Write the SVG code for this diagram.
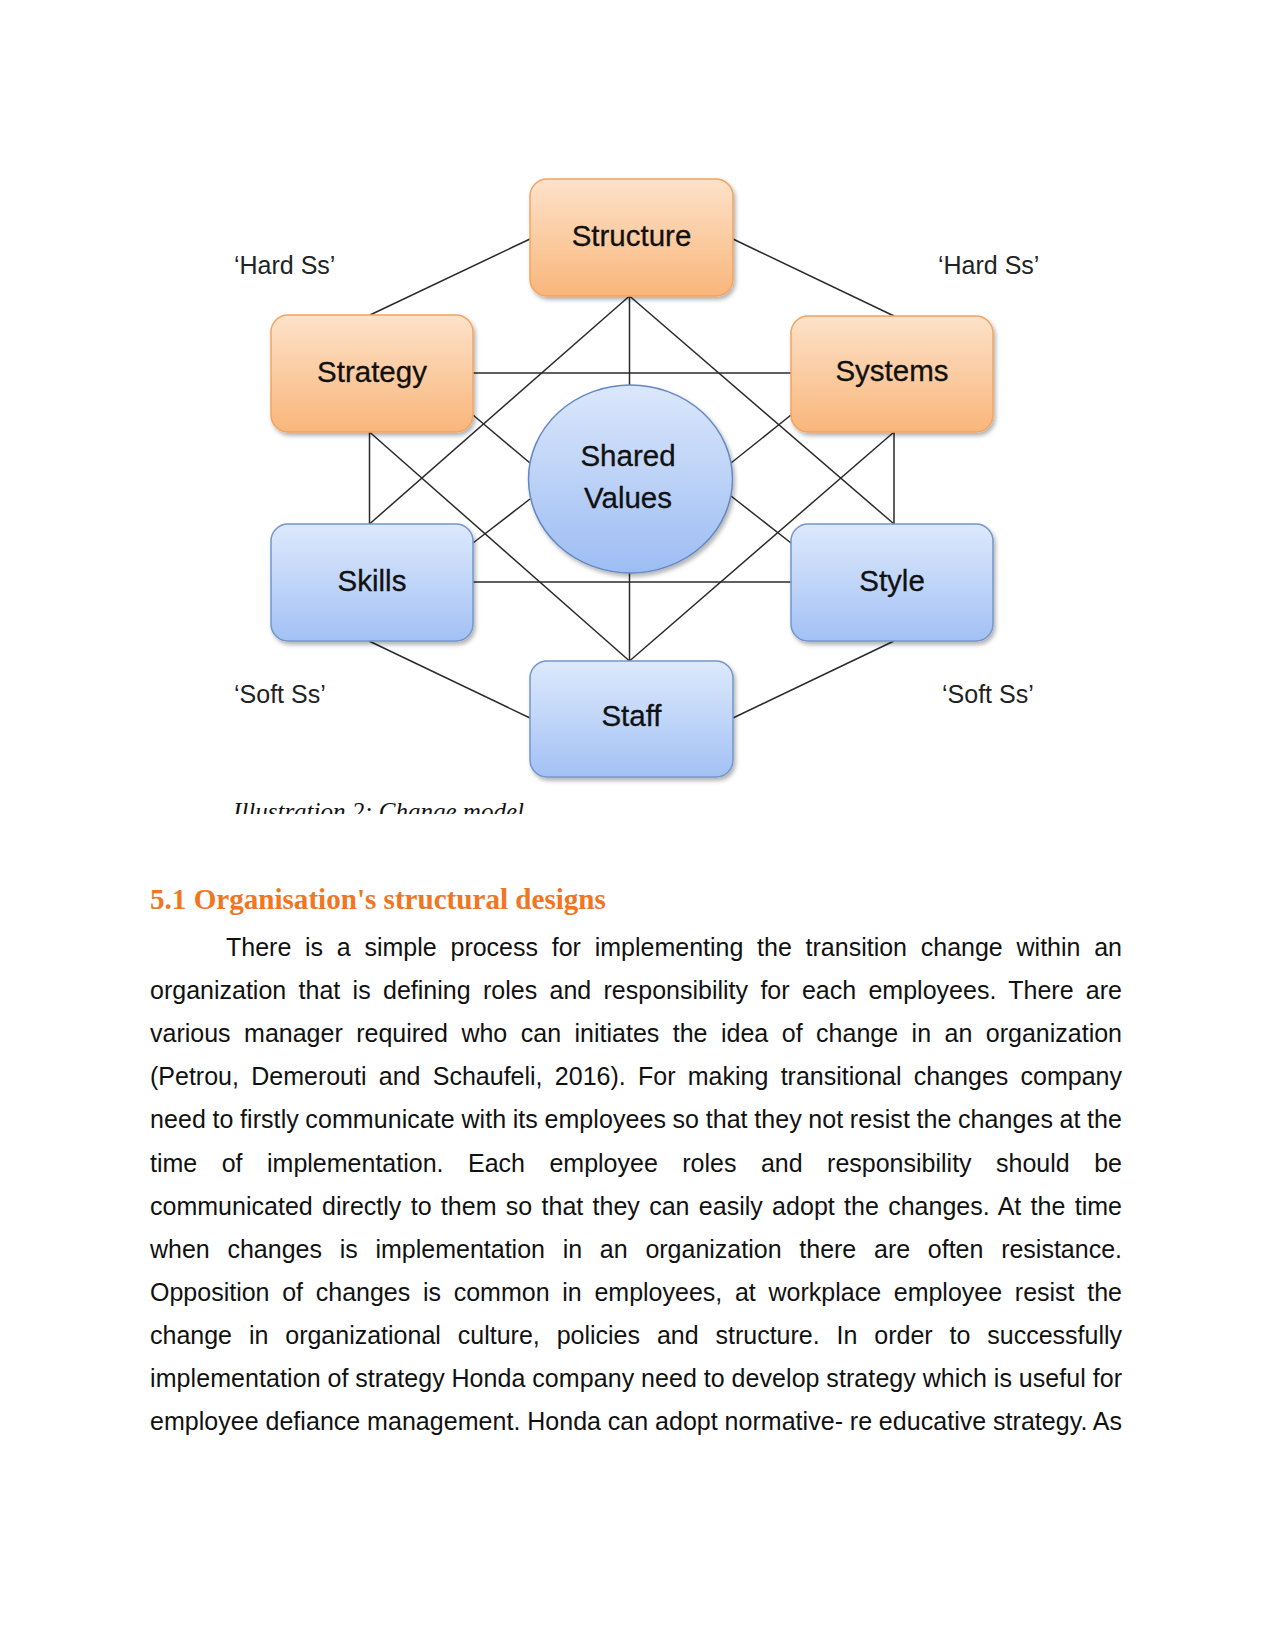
<svg xmlns="http://www.w3.org/2000/svg" width="1275" height="1650" viewBox="0 0 1275 1650">
<defs>
<linearGradient id="gOrange" x1="0" y1="0" x2="0" y2="1">
<stop offset="0" stop-color="#fde2c9"/>
<stop offset="1" stop-color="#f9b67b"/>
</linearGradient>
<linearGradient id="gBlue" x1="0" y1="0" x2="0" y2="1">
<stop offset="0" stop-color="#dde9fc"/>
<stop offset="1" stop-color="#a3c1f5"/>
</linearGradient>
<linearGradient id="gCircle" x1="0" y1="0" x2="0" y2="1">
<stop offset="0" stop-color="#dbe7fb"/>
<stop offset="1" stop-color="#9dbdf3"/>
</linearGradient>
<filter id="shadow" x="-10%" y="-10%" width="125%" height="130%">
<feDropShadow dx="2" dy="3" stdDeviation="2.2" flood-color="#000" flood-opacity="0.3"/>
</filter>
<clipPath id="capClip"><rect x="200" y="780" width="500" height="34"/></clipPath>
</defs>
<style>
.orange{fill:url(#gOrange);stroke:#f2a462;stroke-width:1.5;filter:url(#shadow)}
.blue{fill:url(#gBlue);stroke:#7396cc;stroke-width:1.5;filter:url(#shadow)}
.lbl{font-family:"Liberation Sans",Arial,sans-serif;font-size:29.5px;fill:#111;text-anchor:middle;stroke:#111;stroke-width:0.3}
.side{font-family:"Liberation Sans",Arial,sans-serif;font-size:25px;fill:#222}
.conn line{stroke:#2a2a2a;stroke-width:1.5}
.body{font-family:"Liberation Sans",Arial,sans-serif;font-size:25px;fill:#111}
</style>
<rect width="1275" height="1650" fill="#fff"/>

<g id="connectors" class="conn">
<line x1="530" y1="239" x2="370" y2="315"/>
<line x1="733" y1="239" x2="894" y2="316"/>
<line x1="369" y1="641" x2="530" y2="718"/>
<line x1="894" y1="641" x2="733" y2="718"/>
<line x1="473" y1="373" x2="791" y2="373"/>
<line x1="473" y1="582" x2="791" y2="582"/>
<line x1="629.5" y1="296" x2="629.5" y2="385"/>
<line x1="629.5" y1="573" x2="629.5" y2="661"/>
<line x1="369.5" y1="432" x2="369.5" y2="524"/>
<line x1="894" y1="432" x2="894" y2="524"/>
<line x1="629.5" y1="296" x2="369.5" y2="524"/>
<line x1="629.5" y1="296" x2="894" y2="524"/>
<line x1="369.5" y1="432" x2="629.5" y2="661"/>
<line x1="894" y1="432" x2="629.5" y2="661"/>
<line x1="473" y1="415" x2="530" y2="463"/>
<line x1="473" y1="543" x2="530" y2="499"/>
<line x1="791" y1="415" x2="731" y2="463"/>
<line x1="791" y1="543" x2="731" y2="496"/>
</g>

<g id="node-structure"><rect class="orange" x="530" y="179" width="203" height="117" rx="17"/><text class="lbl" x="631.5" y="246">Structure</text></g>
<g id="node-strategy"><rect class="orange" x="271" y="315" width="202" height="117" rx="17"/><text class="lbl" x="372" y="382">Strategy</text></g>
<g id="node-systems"><rect class="orange" x="791" y="316" width="202" height="116" rx="17"/><text class="lbl" x="892" y="381">Systems</text></g>
<g id="node-shared-values"><ellipse cx="630.5" cy="479" rx="102" ry="94" fill="url(#gCircle)" stroke="#6388c3" stroke-width="1.5" filter="url(#shadow)"/><text class="lbl" x="628" y="466">Shared</text><text class="lbl" x="628" y="508">Values</text></g>
<g id="node-skills"><rect class="blue" x="271" y="524" width="202" height="117" rx="17"/><text class="lbl" x="372" y="591">Skills</text></g>
<g id="node-style"><rect class="blue" x="791" y="524" width="202" height="117" rx="17"/><text class="lbl" x="892" y="591">Style</text></g>
<g id="node-staff"><rect class="blue" x="530" y="661" width="203" height="116" rx="17"/><text class="lbl" x="631.5" y="726">Staff</text></g>

<g id="side-labels">
<text class="side" x="234" y="274">‘Hard Ss’</text>
<text class="side" x="938" y="274">‘Hard Ss’</text>
<text class="side" x="234" y="703">‘Soft Ss’</text>
<text class="side" x="942" y="703">‘Soft Ss’</text>
</g>

<g clip-path="url(#capClip)"><text x="233" y="819.5" font-family="'Liberation Serif','Times New Roman',serif" font-style="italic" font-size="25" fill="#111">Illustration 2: Change model</text></g>

<text x="150" y="909" font-family="'Liberation Serif','Times New Roman',serif" font-weight="bold" font-size="29.1" fill="#f27521">5.1 Organisation's structural designs</text>

<g class="body">
<text x="226" y="956" word-spacing="6.8" textLength="896" lengthAdjust="spacing">There is a simple process for implementing the transition change within an</text>
<text x="150" y="999.1" word-spacing="5.37" textLength="972" lengthAdjust="spacing">organization that is defining roles and responsibility for each employees. There are</text>
<text x="150" y="1042.2" word-spacing="6.54" textLength="972" lengthAdjust="spacing">various manager required who can initiates the idea of change in an organization</text>
<text x="150" y="1085.3" word-spacing="5.33" textLength="972" lengthAdjust="spacing">(Petrou, Demerouti and Schaufeli, 2016). For making transitional changes company</text>
<text x="150" y="1128.4" word-spacing="-0.48" textLength="972" lengthAdjust="spacing">need to firstly communicate with its employees so that they not resist the changes at the</text>
<text x="150" y="1171.5" word-spacing="17.53" textLength="972" lengthAdjust="spacing">time of implementation. Each employee roles and responsibility should be</text>
<text x="150" y="1214.6" word-spacing="2.33" textLength="972" lengthAdjust="spacing">communicated directly to them so that they can easily adopt the changes. At the time</text>
<text x="150" y="1257.7" word-spacing="10.77" textLength="972" lengthAdjust="spacing">when changes is implementation in an organization there are often resistance.</text>
<text x="150" y="1300.8" word-spacing="5.75" textLength="972" lengthAdjust="spacing">Opposition of changes is common in employees, at workplace employee resist the</text>
<text x="150" y="1343.9" word-spacing="9.94" textLength="972" lengthAdjust="spacing">change in organizational culture, policies and structure. In order to successfully</text>
<text x="150" y="1387" word-spacing="-0.27" textLength="972" lengthAdjust="spacing">implementation of strategy Honda company need to develop strategy which is useful for</text>
<text x="150" y="1430.1" word-spacing="-0.21" textLength="972" lengthAdjust="spacing">employee defiance management. Honda can adopt normative- re educative strategy. As</text>
</g>
</svg>
